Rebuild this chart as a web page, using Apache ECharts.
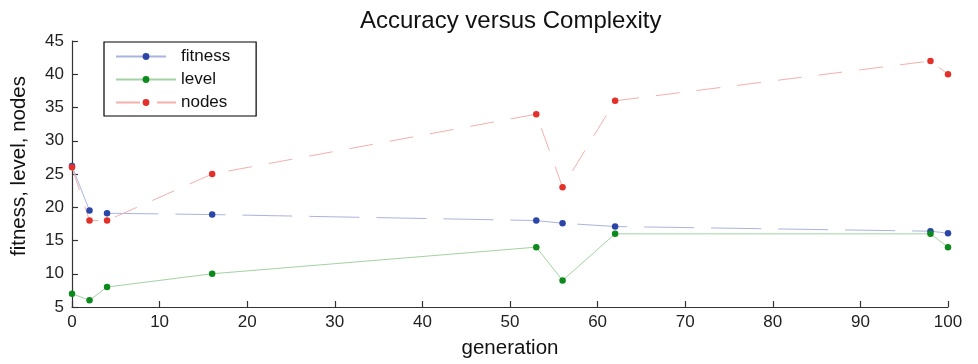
<!DOCTYPE html>
<html>
<head>
<meta charset="utf-8">
<script src="https://cdn.jsdelivr.net/npm/echarts@6/dist/echarts.min.js"></script>
<style>
  html, body { margin: 0; padding: 0; background: #fff; }
  #chart { width: 978px; height: 364px; }
</style>
</head>
<body>
<div id="chart"></div>
<script>
// Generations sampled during the run
const generations = [0, 2, 4, 16, 53, 56, 62, 98, 100];
// Measured quantities per generation
const fitness = [26.2, 19.5, 19.1, 18.9, 18.0, 17.6, 17.1, 16.4, 16.1];
const level   = [7, 6, 8, 10, 14, 9, 16, 16, 14];
const nodes   = [26, 18, 18, 25, 34, 23, 36, 42, 40];

const xTicks = { min: 0, max: 100, interval: 10 };
const yTicks = { min: 5, max: 45, interval: 5 };

const font = 'Liberation Sans, Arial, Helvetica, sans-serif';

function pairs(values) {
  return generations.map((g, i) => [g, values[i]]);
}

function lineSeries(name, values, markerColor, lineColor, dash) {
  return {
    name: name,
    type: 'line',
    data: pairs(values),
    symbol: 'circle',
    symbolSize: 6.5,
    showAllSymbol: true,
    itemStyle: { color: markerColor },
    lineStyle: { color: lineColor, width: 1, type: dash },
    emphasis: { disabled: true },
    animation: false
  };
}

const chart = echarts.init(document.getElementById('chart'), null, { renderer: 'canvas' });

chart.setOption({
  backgroundColor: '#fff',
  animation: false,
  title: {
    text: 'Accuracy versus Complexity',
    left: 360,
    top: 9,
    padding: 0,
    textStyle: { fontFamily: font, fontSize: 24, fontWeight: 'normal', color: '#111' }
  },
  legend: {
    orient: 'vertical',
    left: 104,
    top: 42,
    padding: [6, 26, 5, 11],
    itemWidth: 60,
    itemHeight: 8.5,
    itemGap: 6,
    backgroundColor: '#fff',
    borderColor: '#000',
    borderWidth: 1.2,
    borderRadius: 0,
    selectedMode: false,
    textStyle: { fontFamily: font, fontSize: 17, color: '#111', lineHeight: 17 },
    data: ['fitness', 'level', 'nodes']
  },
  grid: { left: 72, right: 30, top: 41, bottom: 56, containLabel: false },
  xAxis: {
    type: 'value',
    min: xTicks.min,
    max: xTicks.max,
    interval: xTicks.interval,
    name: 'generation',
    nameLocation: 'middle',
    nameGap: 31,
    nameTextStyle: { fontFamily: font, fontSize: 20.5, color: '#111' },
    axisLine: { show: true, lineStyle: { color: '#333', width: 1.2 } },
    axisTick: { show: true, inside: true, length: 6, lineStyle: { color: '#333', width: 1.2 } },
    axisLabel: { fontFamily: font, fontSize: 17, color: '#222', margin: 7 },
    splitLine: { show: false }
  },
  yAxis: {
    type: 'value',
    min: yTicks.min,
    max: yTicks.max,
    interval: yTicks.interval,
    name: 'fitness, level, nodes',
    nameLocation: 'middle',
    nameGap: 42,
    nameTextStyle: { fontFamily: font, fontSize: 20.5, color: '#111', padding: [0, 0, 0, 16] },
    axisLine: { show: true, lineStyle: { color: '#333', width: 1.2 } },
    axisTick: { show: true, inside: true, length: 6, lineStyle: { color: '#333', width: 1.2 } },
    axisLabel: { fontFamily: font, fontSize: 17, color: '#222', margin: 8 },
    splitLine: { show: false }
  },
  series: [
    lineSeries('fitness', fitness, '#2b46a8', '#aab4e0', [50, 17]),
    lineSeries('level', level, '#0c8a1c', '#a4d2a4', 'solid'),
    lineSeries('nodes', nodes, '#e3302a', '#f4b0ac', [24, 17])
  ]
});
</script>
</body>
</html>
